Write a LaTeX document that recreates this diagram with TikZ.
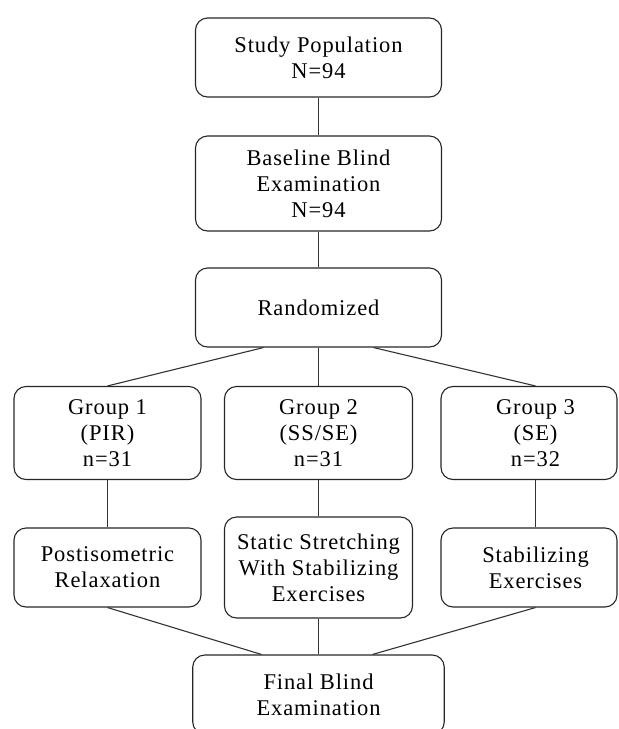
\documentclass[tikz,border=0pt]{standalone}
\usepackage{fontspec}
\setmainfont{Liberation Serif}[LetterSpace=4.0]
\usetikzlibrary{calc}
\tikzset{
  box/.style={draw=black!85, line width=1.1pt, rounded corners=12pt, inner sep=0pt},
  txt/.style={align=center, font=\fontsize{22.5}{26}\selectfont, inner sep=0pt},
  link/.style={draw=black!80, line width=1.1pt}
}
\begin{document}
\begin{tikzpicture}[x=1pt,y=-1pt]
\useasboundingbox (0,0) rectangle (619,729);
\node[box, txt, minimum width=246pt, minimum height=79pt] (pop) at (318.5,57.5) {Study Population\\N=94};
\node[box, txt, minimum width=246pt, minimum height=95pt] (base) at (318.5,183.5) {Baseline Blind\\Examination\\N=94};
\node[box, txt, minimum width=246pt, minimum height=79pt] (rand) at (318.5,307.5) {Randomized};
\node[box, txt, minimum width=187pt, minimum height=93pt] (g1) at (107.5,433) {Group 1\\(PIR)\\n=31};
\node[box, txt, minimum width=188pt, minimum height=93pt] (g2) at (318.5,433) {Group 2\\(SS/SE)\\n=31};
\node[box, minimum width=176pt, minimum height=93pt] (g3) at (529,433) {};
\node[txt] (g3t) at (535.5,433) {Group 3\\(SE)\\n=32};
\node[box, txt, minimum width=187pt, minimum height=79pt] (p1) at (107.5,567.5) {Postisometric\\Relaxation};
\node[box, txt, minimum width=188pt, minimum height=101pt] (p2) at (318.5,567.5) {Static Stretching\\With Stabilizing\\Exercises};
\node[box, minimum width=176pt, minimum height=79pt] (p3) at (529,567.5) {};
\node[txt] (p3t) at (535.5,567.5) {Stabilizing\\Exercises};
\node[box, txt, minimum width=251.5pt, minimum height=79pt] (fin) at (318.5,694.5) {Final Blind\\Examination};
\draw[link] (pop.south) -- (base.north);
\draw[link] (base.south) -- (rand.north);
\draw[link] ($(rand.south)+(-55,0)$) -- (g1.north);
\draw[link] (rand.south) -- (g2.north);
\draw[link] ($(rand.south)+(55,0)$) -- (g3t |- g3.north);
\draw[link] (g1.south) -- (p1.north);
\draw[link] (g2.south) -- (p2.north);
\draw[link] (g3t |- g3.south) -- (p3t |- p3.north);
\draw[link] (p1.south) -- ($(fin.north)+(-57,0)$);
\draw[link] (p2.south) -- (fin.north);
\draw[link] (p3t |- p3.south) -- ($(fin.north)+(54,0)$);
\end{tikzpicture}
\end{document}
